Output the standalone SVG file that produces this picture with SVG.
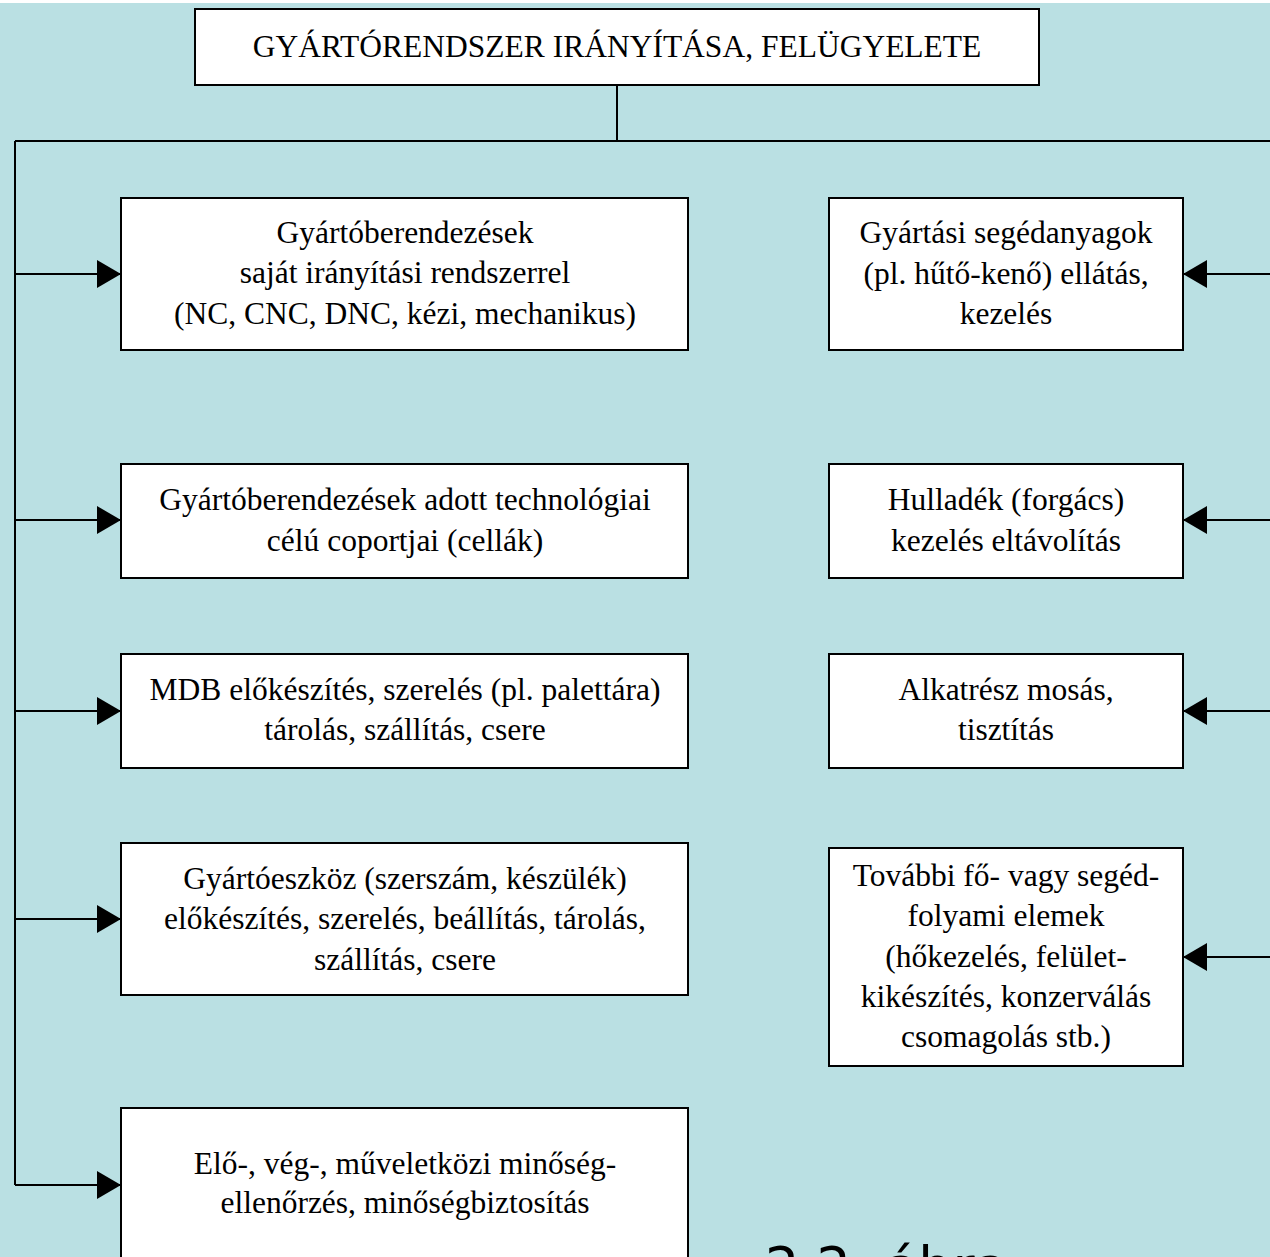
<svg xmlns="http://www.w3.org/2000/svg" width="1270" height="1257" viewBox="0 0 1270 1257">
<defs>
<style>
.bg{fill:#BAE0E3}
.box{fill:#fff;stroke:#000;stroke-width:2}
.ln{fill:none;stroke:#000;stroke-width:2}
.t{font-family:"Liberation Serif","Times New Roman",serif;font-size:31.5px;fill:#000;text-anchor:middle}
.cap{font-family:"DejaVu Sans",sans-serif;font-size:54px;fill:#000}
</style>
<marker id="ah" viewBox="0 0 24 28" markerWidth="24" markerHeight="28" refX="24" refY="14" orient="auto" markerUnits="userSpaceOnUse">
<path d="M0,0 L24,14 L0,28 Z" fill="#000"/>
</marker>
</defs>
<rect class="bg" x="0" y="0" width="1270" height="1257"/>
<rect x="0" y="0" width="1270" height="3" fill="#fff"/>
<g id="connectors">
<path class="ln" d="M617,85 V141"/>
<path class="ln" d="M15,141 H1270"/>
<path class="ln" d="M15,141 V1185"/>
<path class="ln" d="M15,274 H121" marker-end="url(#ah)"/>
<path class="ln" d="M15,520 H121" marker-end="url(#ah)"/>
<path class="ln" d="M15,711 H121" marker-end="url(#ah)"/>
<path class="ln" d="M15,919 H121" marker-end="url(#ah)"/>
<path class="ln" d="M15,1185 H121" marker-end="url(#ah)"/>
<path class="ln" d="M1270,274 H1183" marker-end="url(#ah)"/>
<path class="ln" d="M1270,520 H1183" marker-end="url(#ah)"/>
<path class="ln" d="M1270,711 H1183" marker-end="url(#ah)"/>
<path class="ln" d="M1270,957 H1183" marker-end="url(#ah)"/>
</g>
<g id="n-top">
<rect class="box" x="195" y="9" width="844" height="76"/>
<text class="t" x="617" y="57">GYÁRTÓRENDSZER IRÁNYÍTÁSA, FELÜGYELETE</text>
</g>
<g id="n-l1">
<rect class="box" x="121" y="198" width="567" height="152"/>
<text class="t" x="405" y="243">Gyártóberendezések</text>
<text class="t" x="405" y="283">saját irányítási rendszerrel</text>
<text class="t" x="405" y="324">(NC, CNC, DNC, kézi, mechanikus)</text>
</g>
<g id="n-l2">
<rect class="box" x="121" y="464" width="567" height="114"/>
<text class="t" x="405" y="510">Gyártóberendezések adott technológiai</text>
<text class="t" x="405" y="551">célú coportjai (cellák)</text>
</g>
<g id="n-l3">
<rect class="box" x="121" y="654" width="567" height="114"/>
<text class="t" x="405" y="700">MDB előkészítés, szerelés (pl. palettára)</text>
<text class="t" x="405" y="740">tárolás, szállítás, csere</text>
</g>
<g id="n-l4">
<rect class="box" x="121" y="843" width="567" height="152"/>
<text class="t" x="405" y="889">Gyártóeszköz (szerszám, készülék)</text>
<text class="t" x="405" y="929">előkészítés, szerelés, beállítás, tárolás,</text>
<text class="t" x="405" y="970">szállítás, csere</text>
</g>
<g id="n-l5">
<rect class="box" x="121" y="1108" width="567" height="170"/>
<text class="t" x="405" y="1174">Elő-, vég-, műveletközi minőség-</text>
<text class="t" x="405" y="1213">ellenőrzés, minőségbiztosítás</text>
</g>
<g id="n-r1">
<rect class="box" x="829" y="198" width="354" height="152"/>
<text class="t" x="1006" y="243">Gyártási segédanyagok</text>
<text class="t" x="1006" y="284">(pl. hűtő-kenő) ellátás,</text>
<text class="t" x="1006" y="324">kezelés</text>
</g>
<g id="n-r2">
<rect class="box" x="829" y="464" width="354" height="114"/>
<text class="t" x="1006" y="510">Hulladék (forgács)</text>
<text class="t" x="1006" y="551">kezelés eltávolítás</text>
</g>
<g id="n-r3">
<rect class="box" x="829" y="654" width="354" height="114"/>
<text class="t" x="1006" y="700">Alkatrész mosás,</text>
<text class="t" x="1006" y="740">tisztítás</text>
</g>
<g id="n-r4">
<rect class="box" x="829" y="848" width="354" height="218"/>
<text class="t" x="1006" y="886">További fő- vagy segéd-</text>
<text class="t" x="1006" y="926">folyami elemek</text>
<text class="t" x="1006" y="967">(hőkezelés, felület-</text>
<text class="t" x="1006" y="1007">kikészítés, konzerválás</text>
<text class="t" x="1006" y="1047">csomagolás stb.)</text>
</g>
<text class="cap" x="765" y="1285">2.2. ábra</text>
</svg>
